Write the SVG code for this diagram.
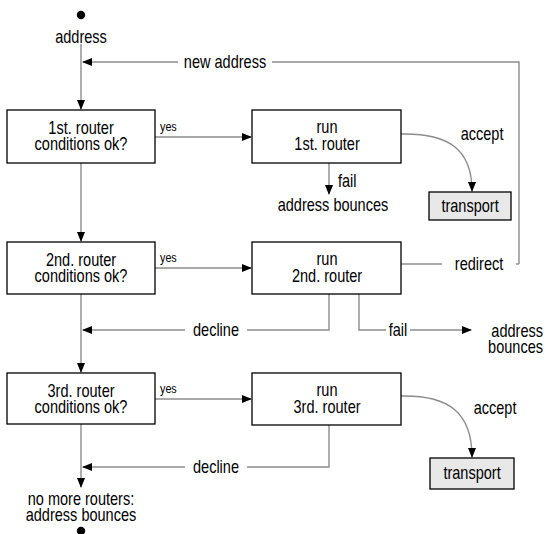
<svg xmlns="http://www.w3.org/2000/svg" width="546" height="534" viewBox="0 0 546 534">
<defs>
<style>
text{font-family:"Liberation Sans",Arial,sans-serif;font-size:17.5px;fill:#000;text-anchor:middle;transform-box:fill-box;transform-origin:center;transform:scaleX(0.83)}
.s{font-size:13px;text-anchor:start;transform-origin:left center}
.l{text-anchor:start;transform-origin:left center}
.r{text-anchor:end;transform-origin:right center}
.box{fill:#fff;stroke:#000;stroke-width:1.3}
.tb{fill:#e8e8e8;stroke:#000;stroke-width:1.3}
.c{fill:none;stroke:#8c8c8c;stroke-width:1.4}
.a{marker-end:url(#ah)}
</style>
<marker id="ah" markerUnits="userSpaceOnUse" markerWidth="10" markerHeight="8" refX="9" refY="4" orient="auto">
<path d="M0,0 L10,4 L0,8 z" fill="#000"/>
</marker>
</defs>
<rect width="546" height="534" fill="#fff"/>
<g id="connectors">
<path class="c a" d="M81,44 V109"/>
<path class="c" d="M519,264 V62 H272"/>
<path class="c a" d="M178,62 H83"/>
<path class="c a" d="M155,137 H251"/>
<path class="c a" d="M401,134 C447,133 472,148 472,191"/>
<path class="c a" d="M329,163 V194"/>
<path class="c a" d="M81,163 V241"/>
<path class="c a" d="M155,268 H251"/>
<path class="c" d="M401,264 H442"/>
<path class="c" d="M516,264 H519"/>
<path class="c" d="M329,294 V330 H247"/>
<path class="c a" d="M185,330 H83"/>
<path class="c" d="M359,294 V330 H386"/>
<path class="c a" d="M410,330 H471"/>
<path class="c a" d="M81,294 V372"/>
<path class="c a" d="M155,399 H251"/>
<path class="c a" d="M401,396 C448,395 472,412 472,457"/>
<path class="c" d="M329,425 V467 H247"/>
<path class="c a" d="M185,467 H83"/>
<path class="c a" d="M81,424 V487"/>
</g>
<g id="start"><circle cx="81" cy="15" r="4.2" fill="#000"/><text x="81" y="43">address</text></g>
<g id="end"><circle cx="81" cy="531" r="4.2" fill="#000"/><text x="81" y="505">no more routers:</text><text x="81" y="521">address bounces</text></g>
<g id="cond1"><rect class="box" x="7" y="110" width="148" height="53"/><text x="81" y="134">1st. router</text><text x="81" y="150">conditions ok?</text></g>
<g id="run1"><rect class="box" x="252" y="110" width="149" height="53"/><text x="327" y="133">run</text><text x="327" y="150">1st. router</text></g>
<g id="transport1"><rect class="tb" x="429" y="192" width="82" height="28"/><text x="470" y="212">transport</text></g>
<g id="cond2"><rect class="box" x="7" y="242" width="148" height="52"/><text x="81" y="266">2nd. router</text><text x="81" y="282">conditions ok?</text></g>
<g id="run2"><rect class="box" x="252" y="242" width="149" height="52"/><text x="327" y="265">run</text><text x="327" y="282">2nd. router</text></g>
<g id="cond3"><rect class="box" x="7" y="373" width="148" height="51"/><text x="81" y="397">3rd. router</text><text x="81" y="413">conditions ok?</text></g>
<g id="run3"><rect class="box" x="252" y="373" width="149" height="52"/><text x="327" y="396">run</text><text x="327" y="413">3rd. router</text></g>
<g id="transport2"><rect class="tb" x="430" y="458" width="84" height="31"/><text x="472" y="479">transport</text></g>
<g id="labels">
<text x="225" y="68">new address</text>
<text class="s" x="160" y="131">yes</text>
<text class="s" x="160" y="262">yes</text>
<text class="s" x="160" y="393">yes</text>
<text x="482" y="140">accept</text>
<text x="495" y="414">accept</text>
<text class="l" x="338" y="187">fail</text>
<text x="333" y="211">address bounces</text>
<text x="479" y="270">redirect</text>
<text x="216" y="336">decline</text>
<text x="216" y="473">decline</text>
<text x="398" y="336">fail</text>
<text class="r" x="543" y="337">address</text>
<text class="r" x="543" y="353">bounces</text>
</g>
</svg>
